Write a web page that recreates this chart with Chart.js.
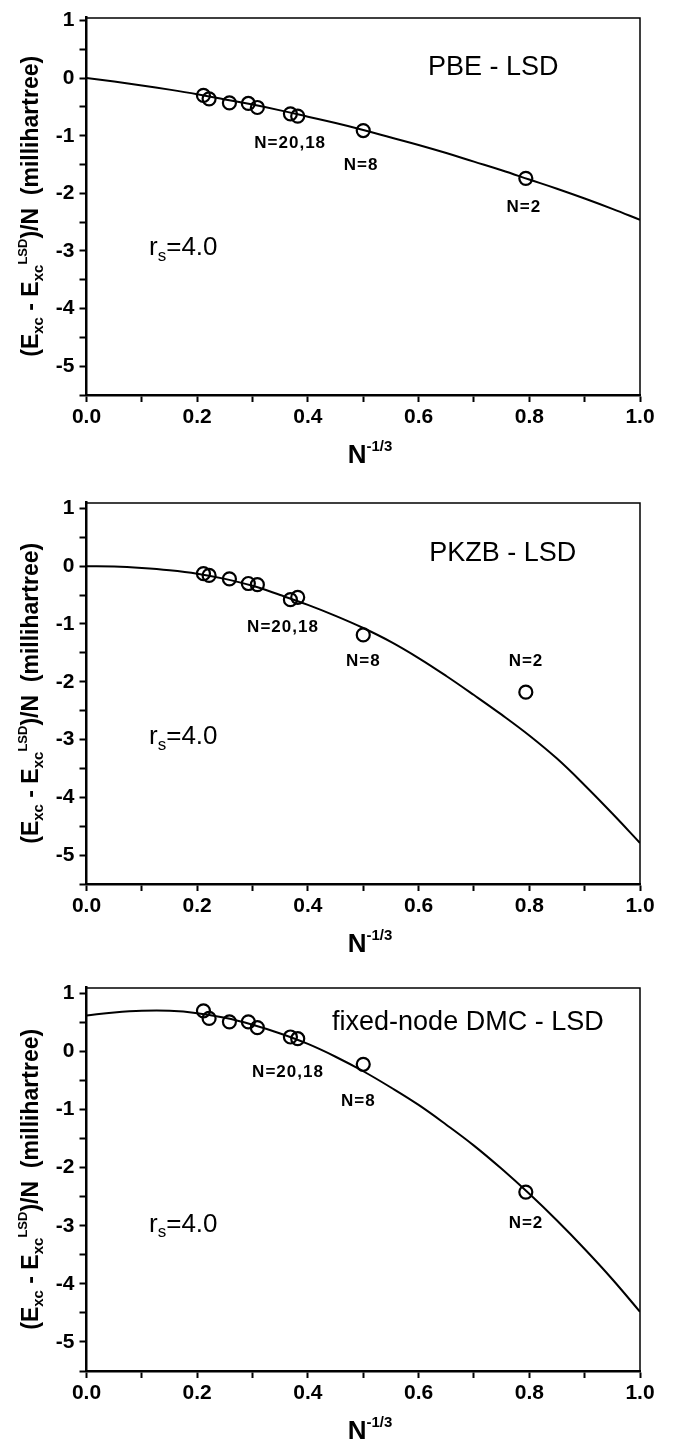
<!DOCTYPE html>
<html><head><meta charset="utf-8">
<script src="https://cdn.jsdelivr.net/npm/chart.js@4.4.1/dist/chart.umd.min.js"></script>
<style>
html,body{margin:0;padding:0;background:#fff;}
body{width:677px;height:1444px;position:relative;overflow:hidden;}
canvas{position:absolute;left:0;}
</style></head><body>
<canvas id="c1" style="top:0px" width="677" height="485"></canvas>
<canvas id="c2" style="top:485px" width="677" height="485"></canvas>
<canvas id="c3" style="top:970px" width="677" height="474"></canvas>
<script>
// ---- data ----
const nValues = [106, 92, 58, 40, 34, 20, 18, 8, 2];
const xData = [0.2113, 0.2215, 0.2582, 0.2924, 0.3087, 0.3684, 0.3816, 0.5000, 0.7937];
const pbeData = [-0.30, -0.36, -0.43, -0.44, -0.51, -0.62, -0.66, -0.91, -1.74];
const pkzbData = [-0.13, -0.16, -0.22, -0.30, -0.32, -0.58, -0.54, -1.19, -2.18];
const dmcData = [0.70, 0.57, 0.51, 0.51, 0.41, 0.25, 0.22, -0.22, -2.42];

const curveX = [0, 0.05, 0.10, 0.15, 0.20, 0.25, 0.30, 0.35, 0.40, 0.45, 0.50, 0.55, 0.60, 0.65, 0.70, 0.75, 0.80, 0.85, 0.90, 0.95, 1.00];
const pbeCurve = [0, -0.06, -0.127, -0.20, -0.28, -0.37, -0.46, -0.56, -0.67, -0.78, -0.90, -1.03, -1.16, -1.30, -1.45, -1.60, -1.76, -1.92, -2.09, -2.27, -2.46];
const pkzbCurve = [0, -0.005, -0.03, -0.07, -0.13, -0.22, -0.34, -0.50, -0.67, -0.86, -1.07, -1.31, -1.59, -1.90, -2.23, -2.57, -2.93, -3.33, -3.79, -4.28, -4.79];
const dmcCurve = [0.62, 0.67, 0.70, 0.70, 0.66, 0.58, 0.46, 0.31, 0.13, -0.09, -0.34, -0.62, -0.92, -1.26, -1.62, -2.02, -2.45, -2.91, -3.40, -3.92, -4.48];

const xTickLabels = ['0.0', '0.2', '0.4', '0.6', '0.8', '1.0'];
const yTickLabels = ['-5', '-4', '-3', '-2', '-1', '0', '1'];
const panelTitles = ['PBE - LSD', 'PKZB - LSD', 'fixed-node DMC - LSD'];

const FONT = "'Liberation Sans', Arial, Helvetica, sans-serif";

function drawRich(ctx, segs, x, y, align) {
  let total = 0;
  segs.forEach(s => { ctx.font = (s.bold ? 'bold ' : '') + s.size + 'px ' + FONT; s.w = ctx.measureText(s.t).width; total += s.w; });
  let cx = align === 'center' ? x - total / 2 : x;
  ctx.textAlign = 'left';
  segs.forEach(s => { ctx.font = (s.bold ? 'bold ' : '') + s.size + 'px ' + FONT; ctx.fillText(s.t, cx, y + (s.dy || 0)); cx += s.w; });
}

const decorPlugin = {
  id: 'decor',
  afterDraw(chart, args, opts) {
    const ctx = chart.ctx, a = chart.chartArea, xs = chart.scales.x, ys = chart.scales.y;
    ctx.save();
    // frame top + right
    ctx.strokeStyle = '#000'; ctx.lineWidth = 1.5;
    ctx.beginPath(); ctx.moveTo(a.left, a.top + 0.5); ctx.lineTo(a.right, a.top + 0.5); ctx.lineTo(a.right, a.bottom); ctx.stroke();
    ctx.fillStyle = '#000';
    ctx.textBaseline = 'alphabetic';
    // y-axis title (rotated)
    ctx.save();
    ctx.translate(38, (a.top + a.bottom) / 2);
    ctx.rotate(-Math.PI / 2);
    drawRich(ctx, [
      {t: '(E', size: 23, bold: true},
      {t: 'xc', size: 15, bold: true, dy: 5},
      {t: ' - E', size: 23, bold: true},
      {t: 'xc', size: 15, bold: true, dy: 5},
      {t: 'LSD', size: 13, bold: true, dy: -11},
      {t: ')/N  (millihartree)', size: 23, bold: true}
    ], 0, 0, 'center');
    ctx.restore();
    // x-axis title
    drawRich(ctx, [
      {t: 'N', size: 26, bold: true},
      {t: '-1/3', size: 15, bold: true, dy: -12}
    ], 370, a.bottom + 68, 'center');
    // panel title
    ctx.textBaseline = 'middle';
    ctx.textAlign = 'center';
    ctx.font = '27px ' + FONT;
    ctx.fillText(opts.title, xs.getPixelForValue(opts.titlePos[0]), ys.getPixelForValue(opts.titlePos[1]));
    // r_s = 4.0
    ctx.textBaseline = 'middle';
    drawRich(ctx, [
      {t: 'r', size: 26},
      {t: 's', size: 17, dy: 8},
      {t: '=4.0', size: 26}
    ], xs.getPixelForValue(0.113), ys.getPixelForValue(opts.rsY), 'left');
    // N labels
    ctx.textAlign = 'center';
    ctx.font = 'bold 17px ' + FONT;
    ctx.letterSpacing = '1px';
    opts.nLabels.forEach(l => {
      ctx.fillText(l[0], xs.getPixelForValue(l[1]), ys.getPixelForValue(l[2]));
    });
    ctx.restore();
  }
};

function pts(xArr, yArr) { return xArr.map((x, i) => ({x: x, y: yArr[i]})); }

function makeChart(id, pointsY, curveY, yMax, padTop, xH, decor) {
  return new Chart(document.getElementById(id), {
    type: 'scatter',
    data: {
      datasets: [
        {
          data: pts(xData, pointsY),
          showLine: false,
          pointStyle: 'circle',
          pointRadius: 6.5,
          pointHoverRadius: 6.5,
          pointBorderWidth: 2.2,
          pointBorderColor: '#000',
          pointBackgroundColor: 'rgba(0,0,0,0)'
        },
        {
          data: pts(curveX, curveY),
          showLine: true,
          borderColor: '#000',
          borderWidth: 2,
          pointRadius: 0,
          tension: 0.4
        }
      ]
    },
    options: {
      responsive: false,
      animation: false,
      events: [],
      layout: {padding: {top: padTop, left: 0, right: 37, bottom: 0}},
      plugins: {legend: {display: false}, tooltip: {enabled: false}, decor: decor},
      scales: {
        x: {
          type: 'linear', min: 0, max: 1,
          afterFit: s => { s.height = xH; },
          border: {display: true, color: '#000', width: 2.5},
          grid: {drawOnChartArea: false, drawTicks: true, tickLength: 7, tickWidth: 2, tickColor: '#000'},
          ticks: {
            stepSize: 0.1, autoSkip: false, maxRotation: 0, padding: 3, color: '#000',
            font: {family: FONT, size: 21, weight: 'bold'},
            callback: v => { const k = Math.round(v * 10); return k % 2 === 0 ? xTickLabels[k / 2] : ''; }
          }
        },
        y: {
          type: 'linear', min: -5.5, max: yMax,
          afterFit: s => { s.width = 86.5; },
          border: {display: true, color: '#000', width: 2.5},
          grid: {drawOnChartArea: false, drawTicks: true, tickLength: 7, tickWidth: 2, tickColor: '#000'},
          ticks: {
            stepSize: 0.5, includeBounds: false, autoSkip: false, padding: 5, color: '#000',
            font: {family: FONT, size: 21, weight: 'bold'},
            callback: v => { const k = Math.round(v * 2); return k % 2 === 0 ? yTickLabels[k / 2 + 5] : ''; }
          }
        }
      }
    },
    plugins: [decorPlugin]
  });
}

makeChart('c1', pbeData, pbeCurve, 1.05, 12, 90, {
  title: panelTitles[0], titlePos: [0.735, 0.19], rsY: -2.95,
  nLabels: [['N=20,18', 0.368, -1.13], ['N=8', 0.496, -1.51], ['N=2', 0.79, -2.24]]
});
makeChart('c2', pkzbData, pkzbCurve, 1.1, 12.3, 86, {
  title: panelTitles[1], titlePos: [0.752, 0.21], rsY: -2.96,
  nLabels: [['N=20,18', 0.355, -1.05], ['N=8', 0.5, -1.65], ['N=2', 0.794, -1.65]]
});
makeChart('c3', dmcData, dmcCurve, 1.1, 15.7, 73, {
  title: panelTitles[2], titlePos: [0.689, 0.50], rsY: -2.98,
  nLabels: [['N=20,18', 0.364, -0.36], ['N=8', 0.491, -0.86], ['N=2', 0.794, -2.95]]
});
</script>
</body></html>
